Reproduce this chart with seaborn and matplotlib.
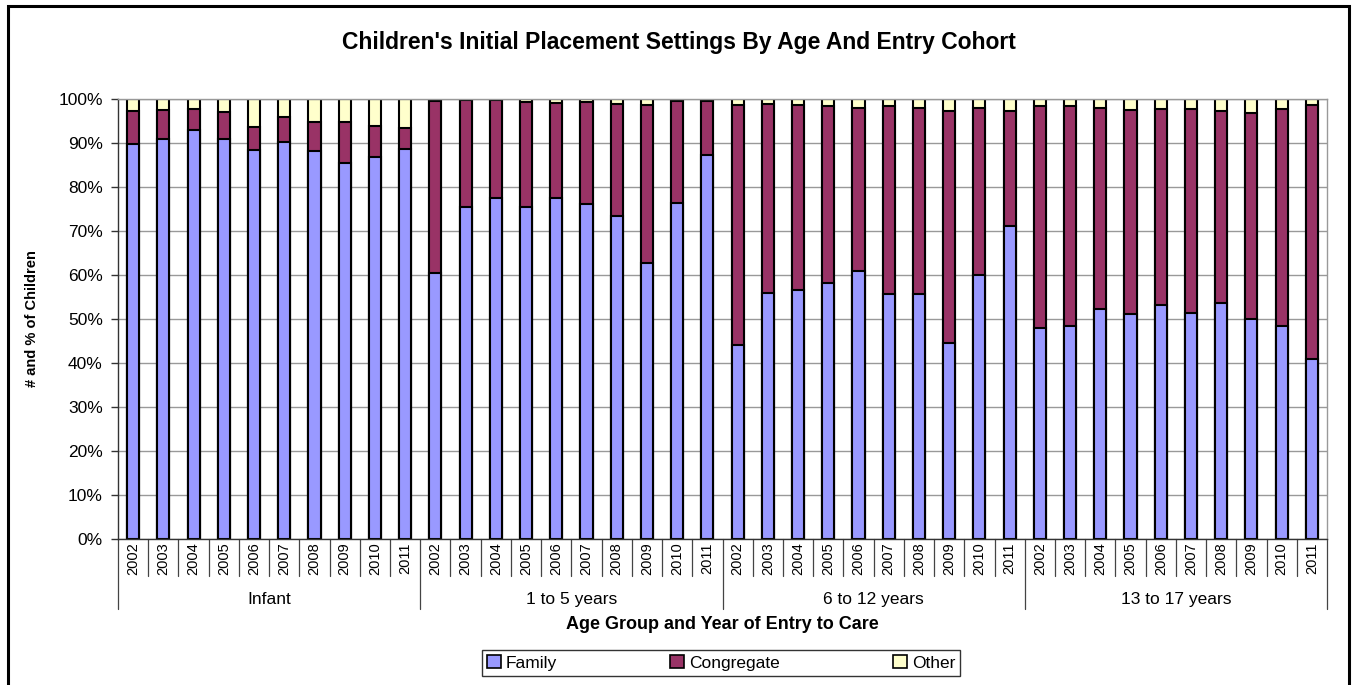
import numpy as np
import pandas as pd
import seaborn as sns
import matplotlib.pyplot as plt
from matplotlib.patches import Patch, Rectangle
from matplotlib.transforms import blended_transform_factory

age_groups = ["Infant", "1 to 5 years", "6 to 12 years", "13 to 17 years"]
years = ["2002", "2003", "2004", "2005", "2006", "2007", "2008", "2009", "2010", "2011"]

# percent of children per setting, 10 entry cohorts per age group
family = [
    89.8, 90.8, 93.0, 90.9, 88.4, 90.2, 88.1, 85.5, 86.8, 88.6,
    60.5, 75.5, 77.6, 75.5, 77.4, 76.1, 73.4, 62.7, 76.4, 87.3,
    44.0, 55.9, 56.5, 58.2, 61.0, 55.6, 55.7, 44.5, 60.1, 71.1,
    47.9, 48.3, 52.3, 51.2, 53.2, 51.4, 53.6, 50.1, 48.4, 41.0,
]
congregate = [
    7.5, 6.7, 4.7, 6.1, 5.2, 5.6, 6.6, 9.2, 7.1, 4.7,
    39.1, 24.3, 22.2, 23.8, 21.8, 23.2, 25.4, 35.9, 23.1, 12.2,
    54.6, 42.9, 42.1, 40.1, 36.9, 42.9, 42.2, 52.8, 37.8, 26.2,
    50.6, 50.2, 45.7, 46.2, 44.6, 46.4, 43.7, 46.8, 49.4, 57.6,
]
other = [
    2.7, 2.5, 2.3, 3.0, 6.4, 4.2, 5.3, 5.3, 6.1, 6.7,
    0.4, 0.2, 0.2, 0.7, 0.8, 0.7, 1.2, 1.4, 0.5, 0.5,
    1.4, 1.2, 1.4, 1.7, 2.1, 1.5, 2.1, 2.7, 2.1, 2.7,
    1.5, 1.5, 2.0, 2.6, 2.2, 2.2, 2.7, 3.1, 2.2, 1.4,
]

series_names = ["Family", "Congregate", "Other"]
colors = ["#9999FF", "#993366", "#FFFFCC"]

df = pd.DataFrame({
    "pos": np.arange(len(family)),
    "Family": family,
    "Congregate": congregate,
    "Other": other,
})
df["top_family"] = df["Family"]
df["top_congregate"] = df["Family"] + df["Congregate"]
df["top_other"] = df["top_congregate"] + df["Other"]

sns.set_theme(style="white")
plt.rcParams["font.family"] = ["Liberation Sans", "DejaVu Sans"]
plt.rcParams["text.color"] = "black"
plt.rcParams["ytick.color"] = "black"

fig = plt.figure(figsize=(13.57, 6.85), dpi=100)
W, H = 1357, 685
ax = fig.add_axes([118 / W, 1 - 539 / H, (1327 - 118) / W, (539 - 99) / H])

# outer chart border
fig.patches.append(Rectangle((8 / W, -0.05), (1349 - 8) / W, 1 - 6 / H + 0.05,
                             transform=fig.transFigure, fill=False,
                             edgecolor="black", linewidth=2.2))

ax.set_axisbelow(True)
ax.yaxis.grid(True, color="#999999", linewidth=1)

# stacked: draw cumulative tops back to front
for col, c in zip(["top_other", "top_congregate", "top_family"], colors[::-1]):
    sns.barplot(data=df, x="pos", y=col, color=c, saturation=1, width=0.4,
                edgecolor="black", linewidth=1.5, ax=ax, errorbar=None)

ax.set_xlim(-0.5, len(family) - 0.5)
ax.set_ylim(0, 100)
ax.set_yticks(np.arange(0, 101, 10))
ax.set_yticklabels([f"{v}%" for v in range(0, 101, 10)], fontsize=12.5)
ax.tick_params(axis="y", length=5, width=1, color="#333333", labelcolor="black",
               left=True, pad=6)
ax.set_xticks([])
ax.set_xlabel("")
ax.set_ylabel("")

for s in ["top", "right"]:
    ax.spines[s].set_color("#999999")
    ax.spines[s].set_linewidth(1)
for s in ["left", "bottom"]:
    ax.spines[s].set_color("#333333")
    ax.spines[s].set_linewidth(1)

# category axis with year labels and group labels
trans = blended_transform_factory(ax.transData, ax.transAxes)
n_groups = len(age_groups)
n_years = len(years)
for i in range(n_groups * n_years + 1):
    x = i - 0.5
    low = -0.16 if i % n_years == 0 else -0.085
    ax.plot([x, x], [0, low], transform=trans, color="#444444",
            linewidth=0.9, clip_on=False)
for g in range(n_groups):
    for j, yr in enumerate(years):
        ax.text(g * n_years + j, -0.008, yr, transform=trans, rotation=90,
                ha="center", va="top", fontsize=10.5)
    ax.text(g * n_years + (n_years - 1) / 2, -0.138, age_groups[g],
            transform=trans, ha="center", va="center", fontsize=12.5)

ax.text(0.5, -0.195, "Age Group and Year of Entry to Care", transform=ax.transAxes,
        ha="center", va="center", fontsize=13, fontweight="bold")
ax.text(-0.071, 0.5, "# and % of Children", transform=ax.transAxes, rotation=90,
        ha="center", va="center", fontsize=10.5, fontweight="bold",
        family=["Liberation Sans Narrow", "Liberation Sans", "DejaVu Sans"])

fig.text(0.5, 1 - 42 / H, "Children's Initial Placement Settings By Age And Entry Cohort",
         ha="center", va="center", fontsize=16.5, fontweight="bold")

handles = [Patch(facecolor=c, edgecolor="black", linewidth=1.2, label=n)
           for n, c in zip(series_names, colors)]
leg = fig.legend(handles=handles, loc="center", bbox_to_anchor=(721 / W, 1 - 663 / H),
                 ncol=3, fontsize=12.5, frameon=True, fancybox=False,
                 handlelength=0.8, handleheight=0.8, handletextpad=0.3,
                 columnspacing=6.5, borderpad=0.3, borderaxespad=0)
leg.get_frame().set_edgecolor("black")
leg.get_frame().set_linewidth(1)

fig.savefig("out.png", dpi=100)
